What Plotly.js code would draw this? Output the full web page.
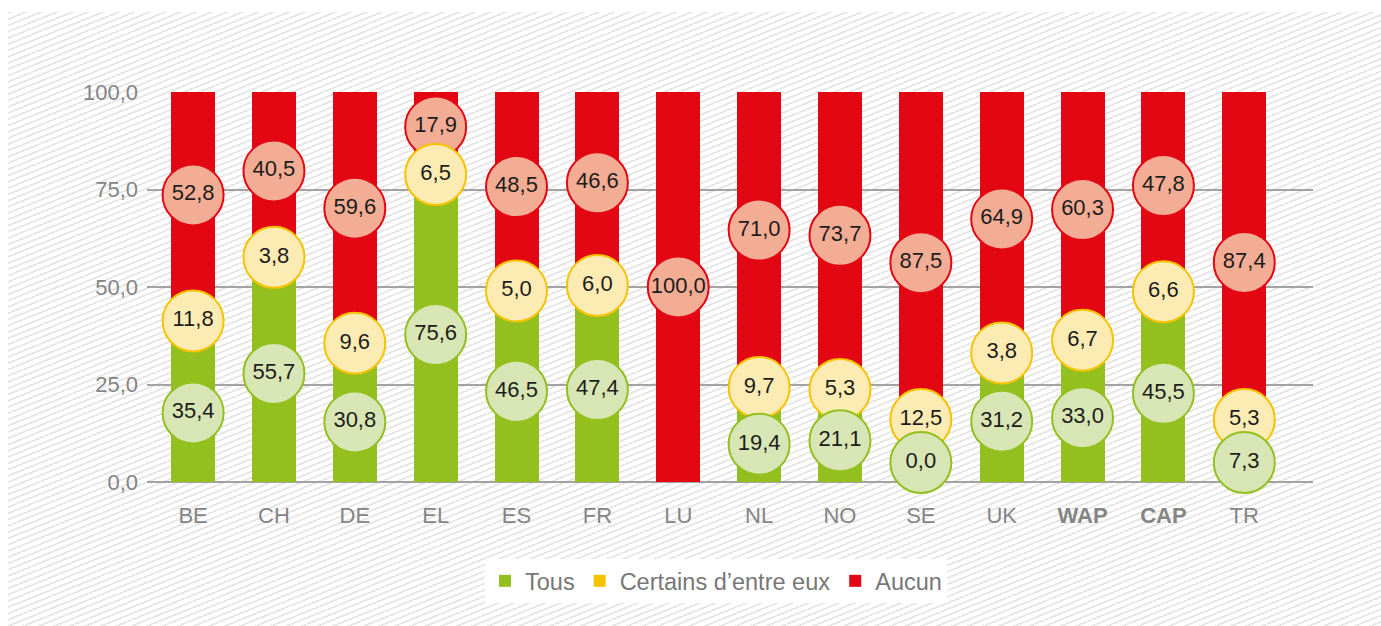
<!DOCTYPE html>
<html>
<head>
<meta charset="utf-8">
<script src="https://cdn.plot.ly/plotly-3.0.1.min.js"></script>
<style>
  html, body { margin: 0; padding: 0; background: #ffffff; }
  #wrap { position: relative; width: 1381px; height: 626px; overflow: hidden; background: #ffffff; }
  #hatch { position: absolute; left: 8px; top: 12px; right: 0; bottom: 0;
    background: repeating-linear-gradient(158deg, #e6e6e6 0px, #e6e6e6 1.8px, #ffffff 1.8px, #ffffff 5.8px); }
  #chart { position: absolute; left: 0; top: 0; width: 1381px; height: 626px; }
</style>
</head>
<body>
<div id="wrap"><div id="hatch"></div><div id="chart"></div></div>
<script>
// ---- data ----
const categories = ['BE','CH','DE','EL','ES','FR','LU','NL','NO','SE','UK','WAP','CAP','TR'];
const tickLabels = ['BE','CH','DE','EL','ES','FR','LU','NL','NO','SE','UK','<b>WAP</b>','<b>CAP</b>','TR'];
const tous     = [35.4, 55.7, 30.8, 75.6, 46.5, 47.4, null, 19.4, 21.1, 0.0, 31.2, 33.0, 45.5, 7.3];
const certains = [11.8,  3.8,  9.6,  6.5,  5.0,  6.0, null,  9.7,  5.3, 12.5, 3.8,  6.7,  6.6, 5.3];
const aucun    = [52.8, 40.5, 59.6, 17.9, 48.5, 46.6, 100.0, 71.0, 73.7, 87.5, 64.9, 60.3, 47.8, 87.4];
const seriesNames = ['Tous', 'Certains d\u2019entre eux', 'Aucun'];

// ---- styles ----
const barColors = ['#93c01f', '#f6c300', '#e30613'];
const circleFill = ['#d8e6b5', '#fdebb4', '#f4ad95'];
const font = '"Liberation Sans", Arial, Helvetica, sans-serif';

const series = [tous, certains, aucun];

// label positions: middle of each stacked segment, pushed apart to limit overlap
const labelY = [[], [], []];
categories.forEach((c, i) => {
  let base = 0, prev = -Infinity;
  series.forEach((s, k) => {
    const v = s[i];
    if (v === null) { labelY[k].push(null); return; }
    let p = base + v / 2;
    p = Math.max(p, 5, prev + 11);
    labelY[k].push(p);
    prev = p;
    base += v;
  });
});

const fmt = v => v === null ? '' : v.toFixed(1).replace('.', ',');

const traces = [];
series.forEach((s, k) => {
  traces.push({
    type: 'bar', x: categories, y: s, name: seriesNames[k],
    marker: { color: barColors[k], line: { width: 0 } },
    width: 0.545, hoverinfo: 'skip'
  });
});
// circles: red first, then yellow, then green on top
[2, 1, 0].forEach(k => {
  traces.push({
    type: 'scatter', mode: 'markers+text', x: categories, y: labelY[k],
    text: series[k].map(fmt), textposition: 'middle center',
    textfont: { family: font, size: 22, color: '#1d1d1b' },
    marker: { size: 61, color: circleFill[k], line: { color: barColors[k], width: 2 } },
    showlegend: false, cliponaxis: false, hoverinfo: 'skip'
  });
});

const layout = {
  width: 1381, height: 626,
  margin: { l: 147, r: 68, t: 92, b: 144 },
  paper_bgcolor: 'rgba(0,0,0,0)', plot_bgcolor: 'rgba(0,0,0,0)',
  separators: ',.',
  barmode: 'stack',
  font: { family: font, size: 22, color: '#878787' },
  xaxis: {
    type: 'category', range: [-0.57, 13.85],
    tickvals: categories, ticktext: tickLabels,
    showgrid: false, zeroline: false, showline: false, ticks: '',
    ticklabelstandoff: 18,
    tickfont: { family: font, size: 22, color: '#858585' }
  },
  yaxis: {
    range: [0, 100], tickvals: [0, 25, 50, 75, 100], tickformat: '.1f',
    showgrid: true, gridcolor: '#a3a3a3', gridwidth: 2,
    zeroline: true, zerolinecolor: '#a3a3a3', zerolinewidth: 2,
    showline: false, ticks: '', ticklabelstandoff: 8,
    tickfont: { family: font, size: 22, color: '#858585' }
  },
  legend: {
    orientation: 'h', x: 0.488, xanchor: 'center', y: -0.254, yanchor: 'middle',
    bgcolor: '#ffffff', borderwidth: 0,
    font: { family: font, size: 23.5, color: '#777777' },
    traceorder: 'normal', itemwidth: 30
  },
  showlegend: true
};

Plotly.newPlot('chart', traces, layout, { displayModeBar: false, staticPlot: true });
</script>
</body>
</html>
